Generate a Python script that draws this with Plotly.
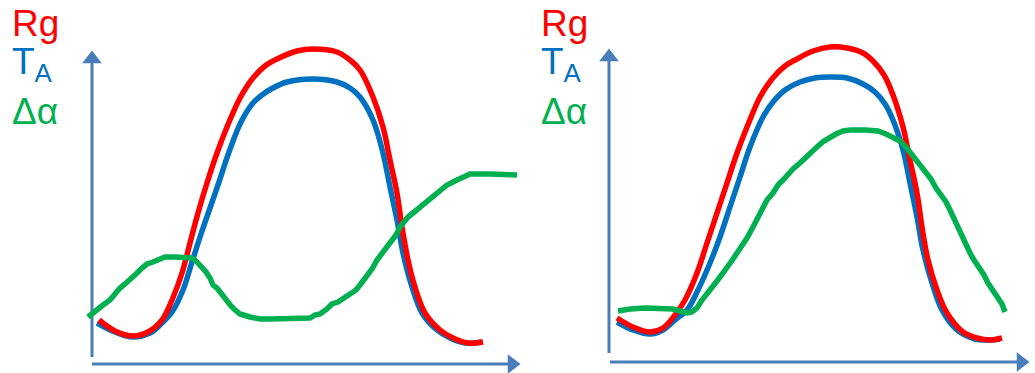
import plotly.graph_objects as go

# ---------------- data (in pixel-like units) ----------------
# Panel 1
p1_rg_x = [99,115,133,148,162,172,182,190,198,207,217,227,240,253,265,277,297,313,337,350,360,373,383,390,397,402,408,415,425,440,453,468,483]
p1_rg_y = [320,331,336,332,320,300,273,243,213,183,153,127,98,78,66,59,51,49,52,60,70,97,127,160,193,227,260,287,313,330,338,343,342]

p1_ta_x = [97,115,133,150,160,172,183,192,201,210,219,229,241,253,262,271,287,313,337,350,360,373,383,390,397,403,412,422,437,450,465,482]
p1_ta_y = [323,332,337,333,325,312,290,262,234,208,182,152,122,103,95,89,82,79,82,88,97,120,153,187,220,253,287,313,330,338,343,342]

p1_da_x = [88,95,103,110,115,120,125,130,136,142,147,153,160,165,175,185,192,196,200,206,210,213,217,220,224,227,231,234,240,250,260,270,280,295,310,315,320,327,332,338,345,350,356,360,364,368,372,377,380,384,388,393,396,400,404,408,413,418,424,430,436,442,447,455,462,470,490,517]
p1_da_y = [317,311,305,300,293,288,284,280,274,268,264,262,259,257,257,257,258,261,265,272,278,285,288,292,297,302,306,309,314,317,319,319,319,319,318,315,314,309,304,302,297,294,290,285,280,274,269,260,256,250,246,240,235,227,222,217,213,209,205,200,195,190,185,181,177,174,174,175]

# Panel 2
p2_rg_x = [617,633,650,663,675,685,697,707,717,727,737,747,760,772,785,797,813,830,847,863,873,884,893,903,910,917,922,928,937,947,963,977,990,1002]
p2_rg_y = [318,327,332,328,315,300,273,243,213,183,153,127,97,79,66,59,51,47,48,53,61,75,95,127,160,193,227,260,290,313,332,338,340,338]

p2_ta_x = [617,633,650,663,675,687,698,710,720,730,740,750,763,773,785,800,815,830,847,863,875,885,893,903,910,917,923,932,942,957,975,990,1000]
p2_ta_y = [322,330,334,330,320,310,290,263,237,207,177,147,117,102,90,82,78,77,78,84,92,104,120,150,183,217,250,283,310,330,339,340,339]

p2_da_x = [618,630,645,660,673,680,687,692,697,702,707,712,717,723,728,733,737,742,747,753,757,762,767,773,778,783,788,793,800,806,812,818,824,830,836,843,850,865,878,886,893,900,906,910,915,920,926,931,936,941,946,950,954,958,962,966,970,974,979,984,988,993,998,1002,1005]
p2_da_y = [311,309,308,308,309,311,313,312,308,300,293,288,281,273,267,259,253,246,238,227,219,210,200,193,185,180,174,169,163,157,151,146,141,137,134,131,130,130,131,134,137,141,147,152,160,166,172,179,188,195,202,210,219,227,237,245,253,260,267,275,283,291,297,304,312]

legend_labels = ["Rg", "T<sub>A</sub>", "Δα"]

# ---------------- style ----------------
RED = "#FF0000"
BLUE = "#0070C0"
GREEN = "#00B050"
AXIS = "#4A7EBB"
LW = 5.5

fig = go.Figure()

def add(x, y, color, shape="spline"):
    fig.add_trace(go.Scatter(x=x, y=y, mode="lines",
                             line=dict(color=color, width=LW, shape=shape, smoothing=1.0),
                             showlegend=False, hoverinfo="skip"))

# axis arrows: line + triangle head
V_AXES = [(92, 62, 357), (609, 60, 353)]       # x, top (head base), bottom
H_AXES = [(364, 92, 509), (362, 610, 1018)]    # y, left, right (head base)
for x0, top, bot in V_AXES:
    fig.add_trace(go.Scatter(x=[x0, x0], y=[bot, top], mode="lines",
                             line=dict(color=AXIS, width=3), showlegend=False, hoverinfo="skip"))
    fig.add_trace(go.Scatter(x=[x0], y=[top - 3], mode="markers",
                             marker=dict(symbol="triangle-up", size=17, color=AXIS),
                             showlegend=False, hoverinfo="skip"))
for y0, left, right in H_AXES:
    fig.add_trace(go.Scatter(x=[left, right], y=[y0, y0], mode="lines",
                             line=dict(color=AXIS, width=3), showlegend=False, hoverinfo="skip"))
    fig.add_trace(go.Scatter(x=[right + 3], y=[y0], mode="markers",
                             marker=dict(symbol="triangle-right", size=17, color=AXIS),
                             showlegend=False, hoverinfo="skip"))

add(p1_ta_x, p1_ta_y, BLUE)
add(p1_rg_x, p1_rg_y, RED)
add(p1_da_x, p1_da_y, GREEN, "linear")
add(p2_ta_x, p2_ta_y, BLUE)
add(p2_rg_x, p2_rg_y, RED)
add(p2_da_x, p2_da_y, GREEN, "linear")

# legend texts
colors = [RED, BLUE, GREEN]
ys = [23, 64, 111]
for x0 in (10, 539):
    for lab, c, yy in zip(legend_labels, colors, ys):
        fig.add_annotation(x=x0, y=yy, xref="x", yref="y", text=lab, showarrow=False,
                           xanchor="left", yanchor="middle",
                           font=dict(family="Liberation Sans, Arial, sans-serif", size=37, color=c))

fig.update_layout(
    width=1035, height=373, autosize=False,
    margin=dict(l=0, r=0, t=0, b=0),
    paper_bgcolor="white", plot_bgcolor="white",
    xaxis=dict(range=[0, 1035], visible=False, fixedrange=True),
    yaxis=dict(range=[373, 0], visible=False, fixedrange=True),
)

fig.write_html("out.html", config={"displayModeBar": False},
               post_script="document.body.style.margin='0';document.body.style.overflow='hidden';")
